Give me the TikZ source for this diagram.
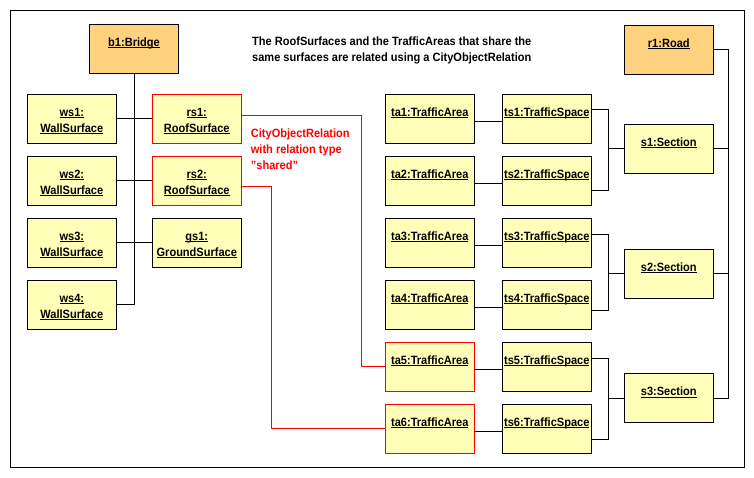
\documentclass[tikz,border=0pt]{standalone}
\usepackage{fontspec}
\setmainfont{Liberation Sans}[FakeStretch=0.92]
\definecolor{yel}{HTML}{FFFFB9}
\definecolor{org}{HTML}{FFD280}
\definecolor{redl}{HTML}{FF0000}
\newsavebox\ulbox
\newcommand\strutA{\vrule height 9pt depth 3pt width 0pt}
\newcommand\uln[1]{\sbox\ulbox{#1}\rlap{\rule[-1.8pt]{\wd\ulbox}{0.9pt}}\usebox\ulbox}
\newcommand\objA[1]{\vbox to 49pt{\vskip 13pt\hbox to 89pt{\hss\strutA\uln{#1}\hss}\vss}}
\newcommand\objB[2]{\vbox to 49pt{\baselineskip=16pt\vskip 13pt\hbox to 89pt{\hss\strutA\uln{#1}\hss}\hbox to 89pt{\hss\strutA\uln{#2}\hss}\vss}}
\begin{document}
\begin{tikzpicture}[x=1pt,y=-1pt,
  every node/.style={font=\bfseries\fontsize{12}{16}\selectfont},
  obj/.style={draw, fill=yel, inner sep=0pt, outer sep=0pt, anchor=north west, line width=0.9pt},
  objr/.style={obj, draw=redl},
  objo/.style={obj, fill=org},
  txt/.style={inner sep=0pt, anchor=north west},
  conn/.style={line width=0.9pt},
  rconn/.style={line width=0.9pt, draw=redl}]
\useasboundingbox (0,0) rectangle (754,477);
\draw[line width=0.9pt] (10.5,10.3) rectangle (744.3,467.3);

% text
\node[txt] (title) at (252,36.3) {\vbox{\baselineskip=16pt\hbox{\strutA The RoofSurfaces and the TrafficAreas that share the}\hbox{\strutA same surfaces are related using a CityObjectRelation}}};
\node[txt, text=redl] (rel) at (250.7,128.3) {\vbox{\baselineskip=15.8pt\hbox{\strutA CityObjectRelation}\hbox{\strutA with relation type}\hbox{\strutA "shared"}}};

% bridge side
\node[objo] (b1) at (89.5,24.5) {\objA{b1:Bridge}};
\node[obj] (ws1) at (27.3,94.3) {\objB{ws1:}{WallSurface}};
\node[obj] (ws2) at (27.3,156.3) {\objB{ws2:}{WallSurface}};
\node[obj] (ws3) at (27.3,218.3) {\objB{ws3:}{WallSurface}};
\node[obj] (ws4) at (27.3,280.3) {\objB{ws4:}{WallSurface}};
\node[objr] (rs1) at (152.3,94.3) {\objB{rs1:}{RoofSurface}};
\node[objr] (rs2) at (152.3,156.3) {\objB{rs2:}{RoofSurface}};
\node[obj] (gs1) at (152.3,218.3) {\objB{gs1:}{GroundSurface}};

% road side
\node[objo] (r1) at (624.3,25.3) {\objA{r1:Road}};
\node[obj] (ta1) at (385.3,94.3) {\objA{ta1:TrafficArea}};
\node[obj] (ta2) at (385.3,156.3) {\objA{ta2:TrafficArea}};
\node[obj] (ta3) at (385.3,218.3) {\objA{ta3:TrafficArea}};
\node[obj] (ta4) at (385.3,280.3) {\objA{ta4:TrafficArea}};
\node[objr] (ta5) at (385.3,342.3) {\objA{ta5:TrafficArea}};
\node[objr] (ta6) at (385.3,404.3) {\objA{ta6:TrafficArea}};
\node[obj] (ts1) at (502.3,94.3) {\objA{ts1:TrafficSpace}};
\node[obj] (ts2) at (502.3,156.3) {\objA{ts2:TrafficSpace}};
\node[obj] (ts3) at (502.3,218.3) {\objA{ts3:TrafficSpace}};
\node[obj] (ts4) at (502.3,280.3) {\objA{ts4:TrafficSpace}};
\node[obj] (ts5) at (502.3,342.3) {\objA{ts5:TrafficSpace}};
\node[obj] (ts6) at (502.3,404.3) {\objA{ts6:TrafficSpace}};
\node[obj] (s1) at (624.3,124.3) {\objA{s1:Section}};
\node[obj] (s2) at (624.3,249.3) {\objA{s2:Section}};
\node[obj] (s3) at (624.3,373.7) {\objA{s3:Section}};

% bridge connectors
\draw[conn] (b1.south) |- (ws4.east);
\draw[conn] (ws1.east) -- (rs1.west);
\draw[conn] (ws2.east) -- (rs2.west);
\draw[conn] (ws3.east) -- (gs1.west);

% area-space connectors
\foreach \i in {1,...,6}{\draw[conn] ([yshift=-2.5pt]ta\i.east) -- ([yshift=-2.5pt]ts\i.west);}

% space-section connectors
\draw[conn] ([yshift=9.8pt]ts1.east) -| ([xshift=-16pt]s1.west) |- ([yshift=-9.2pt]ts2.east);
\draw[conn] ([xshift=-16pt]s1.west) -- (s1.west);
\draw[conn] ([yshift=8.1pt]ts3.east) -| ([xshift=-16pt]s2.west) |- ([yshift=-5.5pt]ts4.east);
\draw[conn] ([xshift=-16pt]s2.west) -- (s2.west);
\draw[conn] ([yshift=8.5pt]ts5.east) -| ([xshift=-16pt]s3.west) |- ([yshift=-10.5pt]ts6.east);
\draw[conn] ([xshift=-16pt]s3.west) -- (s3.west);

% road-section connectors
\draw[conn] (r1.east) -| ([xshift=15pt]s3.east) -- (s3.east);
\draw[conn] (s1.east) -- ++(15,0);
\draw[conn] (s2.east) -- ++(15,0);

% city object relations
\draw[rconn] ([yshift=3.5pt]rs1.east) -- ++(120,0) |- (ta5.west);
\draw[rconn] ([yshift=-5.5pt]rs2.east) -- ++(30.4,0) |- (ta6.west);
\end{tikzpicture}
\end{document}
